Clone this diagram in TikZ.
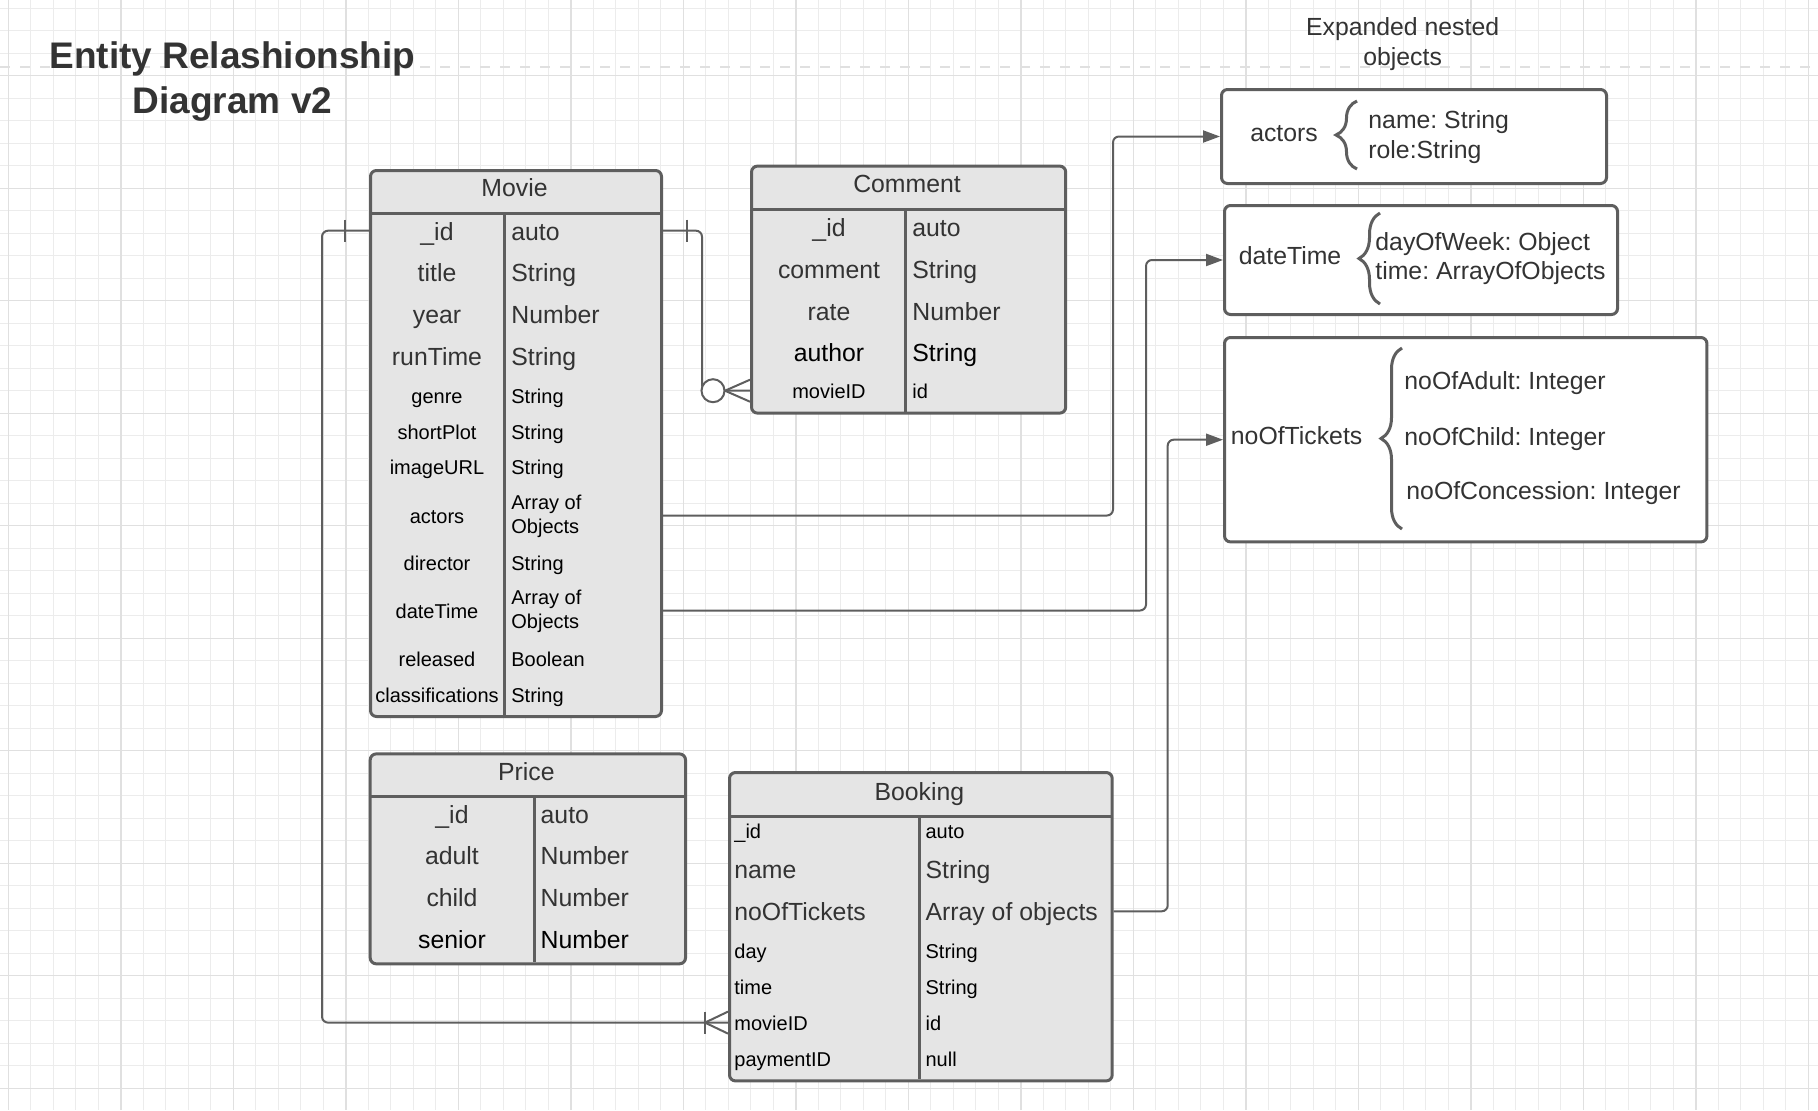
\documentclass[tikz,border=0pt]{standalone}
\usepackage{fontspec}
\setmainfont{Liberation Sans}
\frenchspacing
\usetikzlibrary{arrows.meta,decorations.pathreplacing}

\definecolor{linegray}{HTML}{5E5E5E}
\definecolor{tblfill}{HTML}{E5E5E5}
\definecolor{txtgray}{HTML}{333333}
\definecolor{gridminor}{HTML}{ECECEC}
\definecolor{gridmajor}{HTML}{E0E0E0}

\begin{document}
\begin{tikzpicture}[x=0.5pt, y=-0.5pt,
        tbl/.style={draw=linegray, fill=tblfill, line width=1.5pt, rounded corners=3pt, anchor=north west, inner sep=0pt},
        obox/.style={tbl, fill=white},
        tblline/.style={draw=linegray, line width=1.5pt},
        big/.style={font=\fontsize{12.4}{15}\selectfont, text=txtgray, inner sep=0pt, text height=10.3pt, text depth=1pt},
        dark/.style={big, text=black},
        small/.style={font=\fontsize{10}{12.2}\selectfont, text=black, inner sep=0pt, text height=8.5pt, text depth=0.8pt},
        smalltwo/.style={font=\fontsize{10}{12.2}\selectfont, text=black, inner sep=0pt, align=left, anchor=west},
        conn/.style={draw=linegray, line width=1pt, rounded corners=3pt},
        endmark/.style={draw=linegray, line width=1pt},
        tip/.style={-{Triangle[length=8.5pt, width=6pt]}},
        brc/.style={draw=linegray, line width=1.5pt, decorate, decoration={brace, amplitude=10.5pt}},
    ]
    \useasboundingbox (0,0) rectangle (1818,1110);
    \fill[white] (0,0) rectangle (1818,1110);

    % canvas grid
    \foreach \i in {0,...,80} \draw[gridminor, line width=0.5pt] ({8.3+22.5*\i},0) -- ({8.3+22.5*\i},1110);
    \foreach \i in {0,...,48} \draw[gridminor, line width=0.5pt] (0,{8.2+22.5*\i}) -- (1818,{8.2+22.5*\i});
    \foreach \i in {0,...,16} \draw[gridmajor, line width=0.7pt] ({8.3+112.5*\i},0) -- ({8.3+112.5*\i},1110);
    \foreach \i in {0,...,9} \draw[gridmajor, line width=0.7pt] (0,{75.7+112.5*\i}) -- (1818,{75.7+112.5*\i});
    \draw[gridmajor, line width=1.2pt, dash pattern=on 5pt off 5pt] (0,67) -- (1818,67);

    \node [align=center, font=\bfseries\fontsize{18.5}{22.5}\selectfont, text=txtgray](title) at (232.5,81.5) {Entity Relashionship\\Diagram v2};
    \node [align=center, font=\fontsize{12.4}{15}\selectfont, text=txtgray, inner sep=0pt](nested) at (1402.6,44.5) {Expanded nested\\objects};

    % Movie
    \node [tbl, minimum width=145.5pt, minimum height=273pt](movie) at (369,169) {};
    \draw[tblline] (movie.north west) ++(0,44) -- ++(291,0);
    \draw[tblline] (movie.north west) ++(135,44) -- ++(0,502);
    \node [big](mv-head) at (514.5,187) {Movie};
    \foreach \rk/\y/\nm/\ty in {id/230.7/\_id/auto, title/272.5/title/String, year/314.2/year/Number, runtime/355.9/runTime/String}{
        \node [big](mv-\rk) at (437,\y) {\nm};
        \node [big, anchor=west] at (511,\y) {\ty};
    }
    \foreach \rk/\y/\nm/\ty in {genre/395.4/genre/String, plot/431.3/shortPlot/String, image/467.2/imageURL/String, director/562.3/director/String, released/658.5/released/Boolean, classif/694.5/classifications/String}{
        \node [small](mv-\rk) at (437,\y) {\nm};
        \node [small, anchor=west] at (511,\y) {\ty};
    }
    \node [small](mv-actors) at (437,515.5) {actors};
    \node [smalltwo] at (511,516.5) {Array of\\Objects};
    \node [small](mv-datetime) at (437,610.5) {dateTime};
    \node [smalltwo] at (511,611.5) {Array of\\Objects};

    % Comment
    \node [tbl, minimum width=157.1pt, minimum height=123.5pt](comment) at (750,164.6) {};
    \draw[tblline] (comment.north west) ++(0,45.3) -- ++(314.2,0);
    \draw[tblline] (comment.north west) ++(155.4,45.3) -- ++(0,201.7);
    \node [big](cm-head) at (907,183.2) {Comment};
    \foreach \rk/\y/\nm/\ty in {id/227.2/\_id/auto, comment/269/comment/String, rate/310.7/rate/Number}{
        \node [big](cm-\rk) at (829,\y) {\nm};
        \node [big, anchor=west] at (912,\y) {\ty};
    }
    \node [dark](cm-author) at (829,352.5) {author};
    \node [dark, anchor=west] at (912,352.5) {String};
    \node [small](cm-movieid) at (829,390.7) {movieID};
    \node [small, anchor=west] at (912,390.7) {id};

    % Price
    \node [tbl, minimum width=157.65pt, minimum height=104.95pt](price) at (368.7,752.4) {};
    \draw[tblline] (price.north west) ++(0,44.1) -- ++(315.3,0);
    \draw[tblline] (price.north west) ++(165.8,44.1) -- ++(0,165.8);
    \node [big](pr-head) at (526.4,771) {Price};
    \foreach \rk/\y/\nm/\ty in {id/813.9/\_id/auto, adult/855.6/adult/Number, child/897.4/child/Number}{
        \node [big](pr-\rk) at (452,\y) {\nm};
        \node [big, anchor=west] at (540.3,\y) {\ty};
    }
    \node [dark](pr-senior) at (452,939.1) {senior};
    \node [dark, anchor=west] at (540.3,939.1) {Number};

    % Booking
    \node [tbl, minimum width=191.35pt, minimum height=154.2pt](booking) at (728,771) {};
    \draw[tblline] (booking.north west) ++(0,45) -- ++(382.7,0);
    \draw[tblline] (booking.north west) ++(191.4,45) -- ++(0,263.4);
    \node [big](bk-head) at (919.4,790.7) {Booking};
    \foreach \rk/\y/\nm/\ty in {name/869.6/name/String, tickets/911.3/noOfTickets/Array of objects}{
        \node [big, anchor=west](bk-\rk) at (734,\y) {\nm};
        \node [big, anchor=west] at (925.2,\y) {\ty};
    }
    \foreach \rk/\y/\nm/\ty in {id/831/\_id/auto, day/950.7/day/String, time/986.6/time/String, movieid/1022.6/movieID/id, payment/1058.5/paymentID/null}{
        \node [small, anchor=west](bk-\rk) at (734,\y) {\nm};
        \node [small, anchor=west] at (925.2,\y) {\ty};
    }

    % expanded objects
    \node [obox, minimum width=192.5pt, minimum height=47pt](actbox) at (1220,88) {};
    \node [big](act-key) at (1284,132) {actors};
    \draw[brc] (1357,169) -- (1357,101);
    \node [big, anchor=west](act-name) at (1368,119) {name: String};
    \node [big, anchor=west](act-role) at (1368,149) {role:String};

    \node [obox, minimum width=196.5pt, minimum height=54.5pt](dtbox) at (1223,204) {};
    \node [big](dt-key) at (1290,255) {dateTime};
    \draw[brc] (1380,304) -- (1380,213);
    \node [big, anchor=west](dt-day) at (1375,241) {dayOfWeek: Object};
    \node [big, anchor=west](dt-time) at (1375,270) {time: ArrayOfObjects};

    \node [obox, minimum width=241.2pt, minimum height=102.2pt](tkbox) at (1223,336) {};
    \node [big](tk-key) at (1296.6,435) {noOfTickets};
    \draw[brc] (1402,529) -- (1402,348);
    \node [big, anchor=west](tk-adult) at (1404,380) {noOfAdult: Integer};
    \node [big, anchor=west](tk-child) at (1404,436) {noOfChild: Integer};
    \node [big, anchor=west](tk-conc) at (1406,490) {noOfConcession: Integer};

    % relations
    \draw[conn] (mv-id -| movie.west) -- ++(-47,0) |- (bk-movieid -| booking.west);
    \draw[endmark] (mv-id -| movie.west) ++(-24,-11) -- ++(0,22);
    \draw[endmark] (bk-movieid -| booking.west) ++(-23,-11) -- ++(0,22);
    \draw[endmark] (bk-movieid -| booking.west) ++(0,-11) -- ++(-23,11) -- ++(23,11);

    \draw[conn] (mv-id -| movie.east) -- ++(39,0) |- (cm-movieid -| comment.west);
    \draw[endmark] (mv-id -| movie.east) ++(24,-11) -- ++(0,22);
    \draw[endmark] (cm-movieid -| comment.west) ++(0,-11) -- ++(-25,11) -- ++(25,11);
    \draw[endmark, fill=white] (cm-movieid -| comment.west) ++(-37,0) circle[radius=5.75pt];

    \draw[conn, tip] (mv-actors -| movie.east) -- ++(450,0) |- (actbox.west);
    \draw[conn, tip] (mv-datetime -| movie.east) -- ++(483,0) |- (dtbox.west);
    \draw[conn, tip] (bk-tickets -| booking.east) -- ++(54,0) |- (tkbox.west);

\end{tikzpicture}
\end{document}
